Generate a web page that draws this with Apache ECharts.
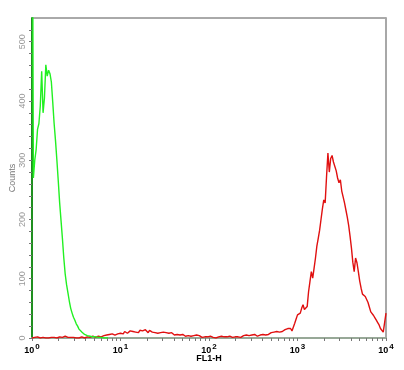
<!DOCTYPE html>
<html>
<head>
<meta charset="utf-8">
<script src="https://cdn.jsdelivr.net/npm/echarts@6/dist/echarts.min.js"></script>
<style>
  html, body { margin: 0; padding: 0; background: #fff; }
  #chart { width: 404px; height: 370px; }
</style>
</head>
<body>
<div id="chart"></div>
<script>
  // histogram channels: 64 per decade, 10^0 .. 10^4
  var channelsPerDecade = 64;

  // green population (first channel is off scale)
  var greenCounts = [
    1000, 270, 300, 318, 352, 362, 392, 450, 380, 405,
    461, 442, 452, 446, 432, 398, 362, 333, 300, 265,
    228, 198, 168, 135, 108, 90, 76, 62, 50, 42,
    35, 30, 24, 20, 15, 12, 10, 7, 6, 5,
    4, 5, 3, 3, 2, 3, 2, 2, 1, 2,
    1, 1, 0, 1, 0, 0
  ];

  // red population
  var redCounts = [
    0, 0, 1, 0, 2, 1, 0, 0, 1, 0,
    0, 1, 0, 0, 1, 2, 1, 0, 0, 1,
    2, 3, 1, 2, 3, 2, 1, 2, 1, 0,
    1, 2, 0, 1, 0, 1, 2, 1, 0, 1,
    2, 1, 1, 2, 3, 2, 1, 2, 3, 2,
    2, 3, 4, 3, 5, 4, 6, 5, 7, 6,
    5, 8, 7, 9, 8, 10, 7, 11, 9, 8,
    10, 12, 9, 11, 13, 10, 12, 9, 13, 11,
    12, 10, 14, 11, 9, 13, 12, 10, 11, 9,
    10, 8, 11, 9, 7, 10, 8, 9, 7, 8,
    6, 9, 7, 5, 8, 6, 7, 5, 4, 6,
    5, 3, 6, 4, 5, 3, 2, 4, 3, 5,
    2, 4, 3, 1, 3, 2, 4, 2, 1, 3,
    2, 1, 2, 0, 1, 2, 1, 3, 1, 2,
    0, 2, 1, 3, 2, 1, 3, 2, 4, 2,
    3, 1, 2, 4, 3, 5, 2, 4, 3, 5,
    4, 6, 5, 3, 6, 5, 7, 6, 8, 5,
    7, 6, 8, 9, 7, 10, 8, 11, 9, 10,
    9, 11, 13, 14, 15, 16, 15, 16, 12, 14,
    25, 32, 39, 41, 42, 50, 56, 48, 47, 53,
    78, 95, 112, 101, 118, 135, 155, 168, 182, 200,
    218, 233, 228, 272, 312, 280, 303, 308, 297, 300,
    282, 270, 262, 267, 248, 238, 228, 216, 204, 190,
    172, 152, 128, 112, 135, 127, 112, 96, 84, 74,
    71, 70, 70, 60, 52, 44, 41, 38, 34, 30,
    26, 22, 16, 13, 10, 10, 42
  ];

  var xLabelValues = [1, 10, 100, 1000, 10000];
  var yLabelValues = [0, 100, 200, 300, 400, 500];
  var yTickValues = [];
  for (var t = 0; t <= 520; t += 20) yTickValues.push(t);
  var xTickValues = [];
  for (var d = 1; d < 10000; d *= 10) {
    for (var m = 1; m < 10; m++) xTickValues.push(d * m);
  }
  xTickValues.push(10000);

  function toPoints(counts) {
    return counts.map(function (c, i) {
      return [Math.pow(10, i / channelsPerDecade), c];
    });
  }

  var myChart = echarts.init(document.getElementById('chart'));
  var option = {
    animation: false,
    grid: {
      left: 32, right: 18, top: 18, bottom: 32,
      containLabel: false,
      outerBoundsMode: 'none',
      show: true,
      borderColor: '#555',
      borderWidth: 1,
      backgroundColor: 'transparent'
    },
    xAxis: [
      {
        type: 'log',
        logBase: 10,
        min: 1,
        max: 10000,
        name: 'FL1-H',
        nameLocation: 'middle',
        nameGap: 16,
        nameMoveOverlap: false,
        nameTextStyle: { fontFamily: 'Liberation Sans', fontSize: 9, fontWeight: 'bold', color: '#000' },
        axisLine: { show: true, lineStyle: { color: '#97a897', width: 2 } },
        axisTick: { show: true, length: 3, customValues: xTickValues, lineStyle: { color: '#777' } },
        splitLine: { show: false },
        minorTick: { show: false },
        axisLabel: {
          customValues: xLabelValues,
          margin: 5,
          formatter: function (v) {
            return '{a|10}{b|' + Math.round(Math.log10(v)) + '}';
          },
          rich: {
            a: { fontFamily: 'Liberation Sans', fontSize: 9, fontWeight: 'bold', color: '#000' },
            b: { fontFamily: 'Liberation Sans', fontSize: 8, fontWeight: 'bold', color: '#000', padding: [0, 0, 7, 1] }
          }
        }
      }
    ],
    yAxis: [
      {
        type: 'value',
        min: 0,
        max: 540,
        name: 'Counts',
        nameLocation: 'middle',
        nameGap: 15,
        nameMoveOverlap: false,
        nameRotate: 90,
        nameTextStyle: { fontFamily: 'Liberation Sans', fontSize: 9, color: '#777' },
        axisLine: { show: true, lineStyle: { color: '#1f8f1f', width: 2 } },
        axisTick: { show: true, length: 3, customValues: yTickValues, lineStyle: { color: '#777' } },
        splitLine: { show: false },
        axisLabel: {
          customValues: yLabelValues,
          rotate: 90,
          margin: 5,
          fontFamily: 'Liberation Sans',
          fontSize: 9,
          color: '#999'
        }
      },
      {
        type: 'value',
        position: 'right',
        min: 0,
        max: 540,
        axisLine: { show: true, lineStyle: { color: '#a8a8a8', width: 2 } },
        axisTick: { show: false },
        axisLabel: { show: false },
        splitLine: { show: false }
      }
    ],
    series: [
      {
        name: 'red',
        type: 'line',
        data: toPoints(redCounts),
        showSymbol: false,
        lineStyle: { color: '#e01010', width: 1.4 },
        z: 2
      },
      {
        name: 'green',
        type: 'line',
        data: toPoints(greenCounts),
        showSymbol: false,
        lineStyle: { color: '#22f022', width: 1.4 },
        z: 3
      }
    ]
  };
  myChart.setOption(option);
</script>
</body>
</html>
